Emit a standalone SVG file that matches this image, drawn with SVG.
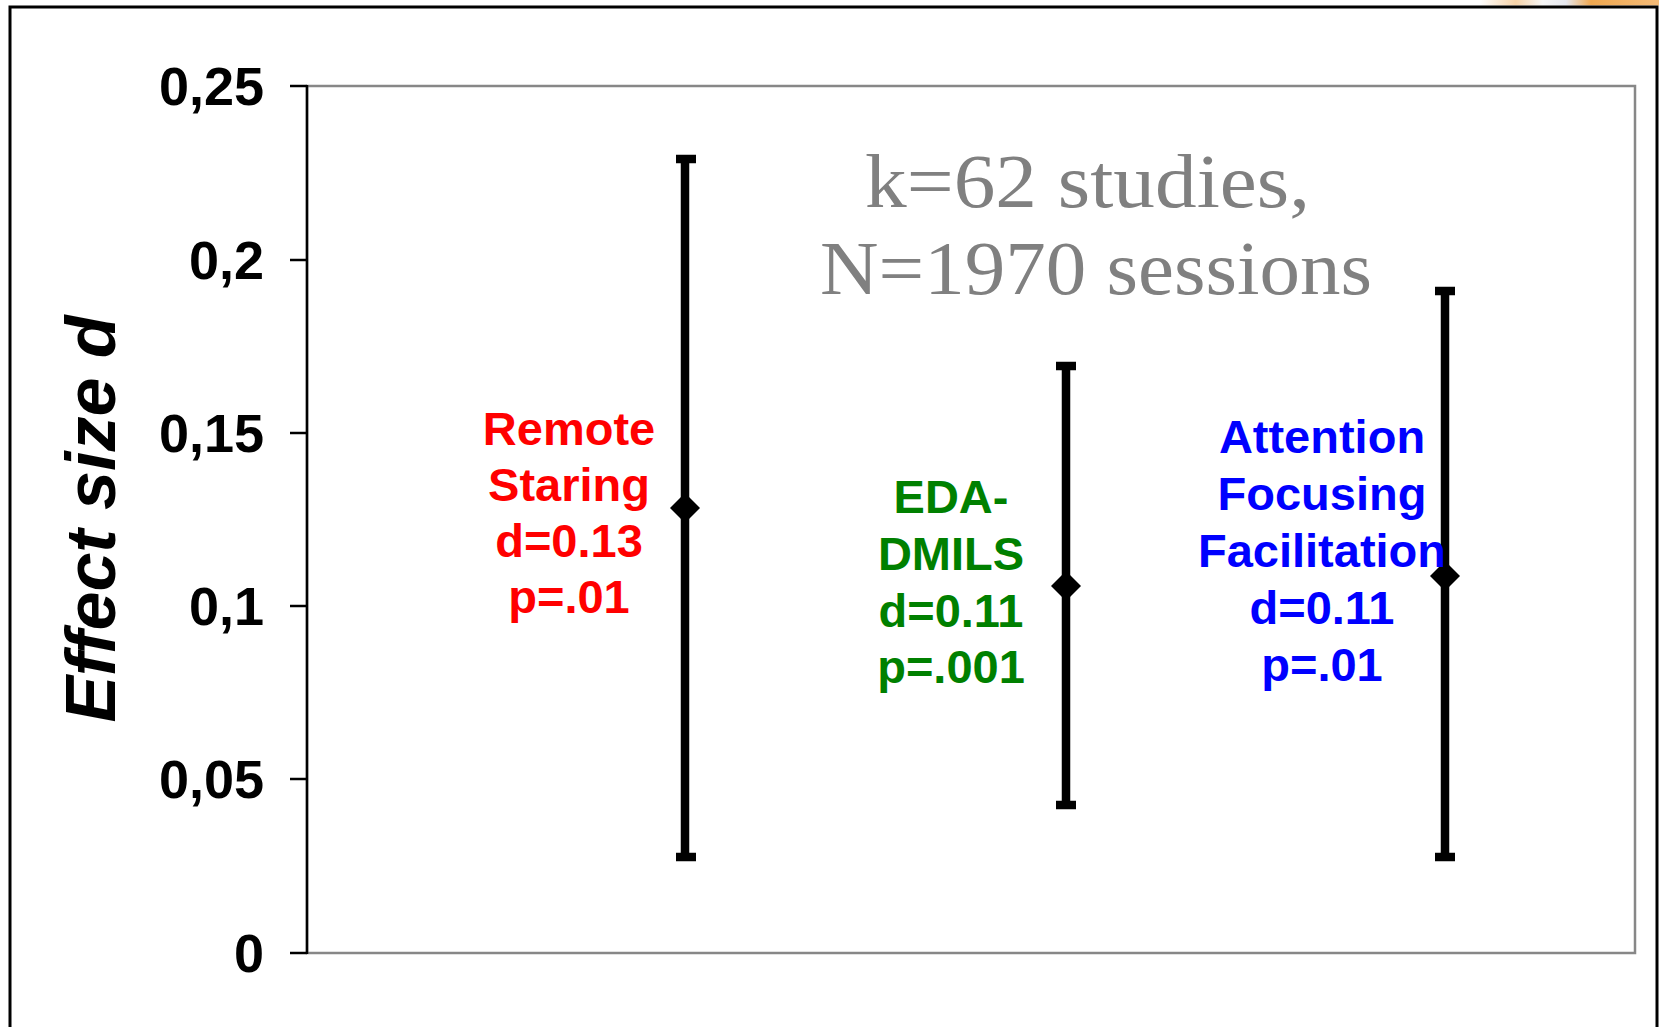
<svg xmlns="http://www.w3.org/2000/svg" width="1659" height="1027" viewBox="0 0 1659 1027">
  <style>
    .tick { font-family: "Liberation Sans", Arial, sans-serif; font-weight: bold; font-size: 54px; fill: #000; text-anchor: end; }
    .lbl { font-family: "Liberation Sans", Arial, sans-serif; font-weight: bold; font-size: 47px; text-anchor: middle; }
    .note { font-family: "Liberation Serif", "Times New Roman", serif; font-size: 76px; fill: #808080; }
    .bar { stroke: #000; stroke-width: 8.5; fill: none; }
    .cap { stroke: #000; stroke-width: 8.5; }
    .tk { stroke: #000; stroke-width: 2.5; }
  </style>
  <defs>
    <linearGradient id="topbar" x1="0" y1="0" x2="1" y2="0">
      <stop offset="0" stop-color="#ffffff"/>
      <stop offset="0.2" stop-color="#f7d3a8"/>
      <stop offset="0.35" stop-color="#f6f6f6"/>
      <stop offset="0.48" stop-color="#e6e8ef"/>
      <stop offset="0.62" stop-color="#f0a850"/>
      <stop offset="1" stop-color="#f4bb78"/>
    </linearGradient>
    <path id="diamond" d="M0,-15 L15,0 L0,15 L-15,0 Z" fill="#000"/>
  </defs>
  <rect x="0" y="0" width="1659" height="1027" fill="#fff"/>
  <rect x="1480" y="0" width="179" height="5.5" fill="url(#topbar)"/>
  <rect id="frame" x="10" y="7" width="1647" height="1100" fill="#fff" stroke="#000" stroke-width="3"/>

  <g id="plot-area">
    <rect x="307" y="86" width="1328" height="867" fill="#fff" stroke="#878787" stroke-width="2.5"/>
    <line x1="307" y1="85" x2="307" y2="954" stroke="#000" stroke-width="2.5"/>
  </g>

  <g id="y-axis">
    <line class="tk" x1="290" y1="86" x2="307" y2="86"/>
    <line class="tk" x1="290" y1="260" x2="307" y2="260"/>
    <line class="tk" x1="290" y1="433" x2="307" y2="433"/>
    <line class="tk" x1="290" y1="606" x2="307" y2="606"/>
    <line class="tk" x1="290" y1="779" x2="307" y2="779"/>
    <line class="tk" x1="290" y1="953" x2="307" y2="953"/>
    <text class="tick" x="264" y="105">0,25</text>
    <text class="tick" x="264" y="279">0,2</text>
    <text class="tick" x="264" y="452">0,15</text>
    <text class="tick" x="264" y="625">0,1</text>
    <text class="tick" x="264" y="798">0,05</text>
    <text class="tick" x="264" y="972">0</text>
    <text transform="translate(115,519) rotate(-90)" font-family="'Liberation Sans', Arial, sans-serif" font-weight="bold" font-style="italic" font-size="70" text-anchor="middle" fill="#000">Effect size d</text>
  </g>

  <g id="note">
    <text class="note" x="865" y="207" textLength="445" lengthAdjust="spacingAndGlyphs">k=62 studies,</text>
    <text class="note" x="820" y="294" textLength="552" lengthAdjust="spacingAndGlyphs">N=1970 sessions</text>
  </g>

  <g id="connectors">
    <g id="bar-remote">
      <line class="bar" x1="685" y1="159" x2="685" y2="857"/>
      <line class="cap" x1="676" y1="159" x2="696" y2="159"/>
      <line class="cap" x1="676" y1="857" x2="696" y2="857"/>
      <use href="#diamond" x="685" y="508"/>
    </g>
    <g id="bar-eda">
      <line class="bar" x1="1066" y1="366" x2="1066" y2="805"/>
      <line class="cap" x1="1056" y1="366" x2="1076" y2="366"/>
      <line class="cap" x1="1056" y1="805" x2="1076" y2="805"/>
      <use href="#diamond" x="1066" y="586"/>
    </g>
    <g id="bar-attention">
      <line class="bar" x1="1445" y1="291" x2="1445" y2="857"/>
      <line class="cap" x1="1435" y1="291" x2="1455" y2="291"/>
      <line class="cap" x1="1435" y1="857" x2="1455" y2="857"/>
      <use href="#diamond" x="1445" y="576"/>
    </g>
  </g>

  <g id="label-remote" fill="#ff0000">
    <text class="lbl" x="569" y="445">Remote</text>
    <text class="lbl" x="569" y="501">Staring</text>
    <text class="lbl" x="569" y="557">d=0.13</text>
    <text class="lbl" x="569" y="613">p=.01</text>
  </g>
  <g id="label-eda" fill="#008000">
    <text class="lbl" x="951" y="513">EDA-</text>
    <text class="lbl" x="951" y="570">DMILS</text>
    <text class="lbl" x="951" y="627">d=0.11</text>
    <text class="lbl" x="951" y="683">p=.001</text>
  </g>
  <g id="label-attention" fill="#0000ff">
    <text class="lbl" x="1322" y="453">Attention</text>
    <text class="lbl" x="1322" y="510">Focusing</text>
    <text class="lbl" x="1322" y="567">Facilitation</text>
    <text class="lbl" x="1322" y="624">d=0.11</text>
    <text class="lbl" x="1322" y="681">p=.01</text>
  </g>
</svg>
